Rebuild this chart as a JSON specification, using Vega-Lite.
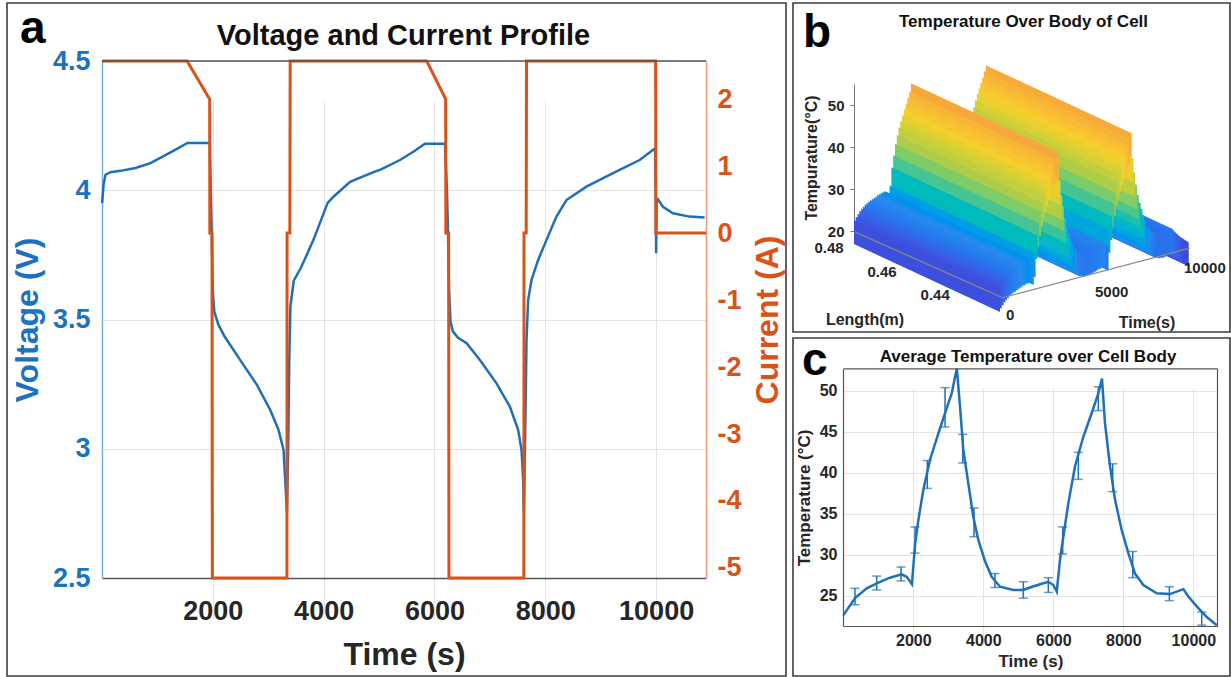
{
"$schema": "https://vega.github.io/schema/vega-lite/v6.json",
"padding": {"left": 6, "top": 2, "right": 0, "bottom": 0},
"background": "white",
"bounds": "flush",
"spacing": 7,
"config": {
  "font": "Liberation Sans",
  "view": {"stroke": "#3c3c3c", "strokeWidth": 1.6},
  "text": {"font": "Liberation Sans"}
},
"datasets": {
  "volt": [
    {"t": 0, "v": 3.95}, {"t": 10, "v": 3.97}, {"t": 27, "v": 4.02}, {"t": 63, "v": 4.06}, {"t": 153, "v": 4.07}, {"t": 333, "v": 4.075}, {"t": 604, "v": 4.086}, {"t": 874, "v": 4.105}, {"t": 1144, "v": 4.136}, {"t": 1378, "v": 4.163}, {"t": 1541, "v": 4.183}, {"t": 1700, "v": 4.183}, {"t": 1919, "v": 4.183}, {"t": 1946, "v": 4.18}, {"t": 1964, "v": 4.0}, {"t": 1982, "v": 3.81}, {"t": 2000, "v": 3.61}, {"t": 2027, "v": 3.53}, {"t": 2100, "v": 3.48}, {"t": 2210, "v": 3.435}, {"t": 2495, "v": 3.343}, {"t": 2796, "v": 3.247}, {"t": 3036, "v": 3.15}, {"t": 3186, "v": 3.073}, {"t": 3276, "v": 2.995}, {"t": 3306, "v": 2.88}, {"t": 3337, "v": 2.756}, {"t": 3360, "v": 3.0}, {"t": 3380, "v": 3.35}, {"t": 3400, "v": 3.55}, {"t": 3460, "v": 3.65}, {"t": 3590, "v": 3.7}, {"t": 3820, "v": 3.81}, {"t": 4070, "v": 3.95}, {"t": 4177, "v": 3.975}, {"t": 4477, "v": 4.033}, {"t": 4898, "v": 4.07}, {"t": 5027, "v": 4.08}, {"t": 5378, "v": 4.117}, {"t": 5618, "v": 4.149}, {"t": 5829, "v": 4.18}, {"t": 6189, "v": 4.18}, {"t": 6225, "v": 4.0}, {"t": 6243, "v": 3.845}, {"t": 6262, "v": 3.62}, {"t": 6290, "v": 3.49}, {"t": 6330, "v": 3.455}, {"t": 6420, "v": 3.43}, {"t": 6580, "v": 3.408}, {"t": 6820, "v": 3.343}, {"t": 7120, "v": 3.253}, {"t": 7360, "v": 3.163}, {"t": 7510, "v": 3.073}, {"t": 7571, "v": 2.995}, {"t": 7600, "v": 2.879}, {"t": 7613, "v": 2.756}, {"t": 7640, "v": 3.1}, {"t": 7661, "v": 3.42}, {"t": 7690, "v": 3.575}, {"t": 7751, "v": 3.653}, {"t": 7870, "v": 3.73}, {"t": 8022, "v": 3.808}, {"t": 8201, "v": 3.898}, {"t": 8381, "v": 3.962}, {"t": 8742, "v": 4.014}, {"t": 9222, "v": 4.066}, {"t": 9703, "v": 4.117}, {"t": 9942, "v": 4.156}, {"t": 9980, "v": 4.162}, {"t": 9995, "v": 3.97}, {"t": 10000, "v": 3.756}, {"t": 10010, "v": 3.96}, {"t": 10032, "v": 3.965}, {"t": 10123, "v": 3.936}, {"t": 10303, "v": 3.911}, {"t": 10604, "v": 3.898}, {"t": 10874, "v": 3.895}
  ],
  "curr": [
    {"t": 0, "c": 2.57}, {"t": 1535, "c": 2.57}, {"t": 1943, "c": 2.0}, {"t": 1946, "c": 0.0}, {"t": 1985, "c": 0.0}, {"t": 1991, "c": -5.15}, {"t": 3337, "c": -5.15}, {"t": 3340, "c": 0.0}, {"t": 3390, "c": 0.0}, {"t": 3396, "c": 2.57}, {"t": 5860, "c": 2.57}, {"t": 6202, "c": 2.0}, {"t": 6206, "c": 0.0}, {"t": 6255, "c": 0.0}, {"t": 6261, "c": -5.15}, {"t": 7613, "c": -5.15}, {"t": 7616, "c": 0.0}, {"t": 7655, "c": 0.0}, {"t": 7661, "c": 2.57}, {"t": 9991, "c": 2.57}, {"t": 9995, "c": 0.0}, {"t": 10900, "c": 0.0}
  ],
  "temp": [
    {"t": 0, "T": 22.6}, {"t": 334, "T": 24.7}, {"t": 669, "T": 25.9}, {"t": 954, "T": 26.5}, {"t": 1334, "T": 27.2}, {"t": 1668, "T": 27.6}, {"t": 1811, "T": 27.3}, {"t": 1960, "T": 26.4}, {"t": 2050, "T": 31.3}, {"t": 2143, "T": 34.2}, {"t": 2286, "T": 37.9}, {"t": 2477, "T": 41.6}, {"t": 2714, "T": 44.8}, {"t": 2906, "T": 47.3}, {"t": 3097, "T": 49.7}, {"t": 3191, "T": 51.7}, {"t": 3245, "T": 52.7}, {"t": 3334, "T": 48.1}, {"t": 3429, "T": 42.8}, {"t": 3572, "T": 38.7}, {"t": 3715, "T": 34.6}, {"t": 3857, "T": 31.8}, {"t": 4049, "T": 29.2}, {"t": 4240, "T": 27.3}, {"t": 4477, "T": 26.1}, {"t": 4857, "T": 25.7}, {"t": 5143, "T": 25.7}, {"t": 5334, "T": 26.0}, {"t": 5620, "T": 26.4}, {"t": 5857, "T": 26.7}, {"t": 6000, "T": 26.3}, {"t": 6097, "T": 25.5}, {"t": 6191, "T": 29.4}, {"t": 6286, "T": 32.2}, {"t": 6429, "T": 36.3}, {"t": 6620, "T": 40.8}, {"t": 6857, "T": 44.4}, {"t": 7097, "T": 47.3}, {"t": 7286, "T": 49.7}, {"t": 7390, "T": 51.5}, {"t": 7477, "T": 46.0}, {"t": 7620, "T": 40.8}, {"t": 7763, "T": 36.7}, {"t": 7954, "T": 33.0}, {"t": 8143, "T": 30.2}, {"t": 8334, "T": 27.7}, {"t": 8572, "T": 26.3}, {"t": 8954, "T": 25.3}, {"t": 9334, "T": 25.2}, {"t": 9715, "T": 25.8}, {"t": 9857, "T": 24.9}, {"t": 10097, "T": 23.7}, {"t": 10383, "T": 22.4}, {"t": 10669, "T": 21.4}
  ],
  "err": [
    {"t": 334, "lo": 23.9, "hi": 25.9}, {"t": 954, "lo": 25.7, "hi": 27.4}, {"t": 1649, "lo": 26.8, "hi": 28.5}, {"t": 2049, "lo": 30.2, "hi": 33.4}, {"t": 2400, "lo": 38.1, "hi": 41.5}, {"t": 2906, "lo": 45.6, "hi": 50.4}, {"t": 3411, "lo": 41.2, "hi": 44.7}, {"t": 3734, "lo": 32.2, "hi": 35.7}, {"t": 4334, "lo": 26.0, "hi": 27.7}, {"t": 5143, "lo": 24.7, "hi": 26.7}, {"t": 5857, "lo": 25.4, "hi": 27.2}, {"t": 6267, "lo": 30.1, "hi": 33.4}, {"t": 6714, "lo": 39.2, "hi": 42.5}, {"t": 7286, "lo": 47.6, "hi": 50.5}, {"t": 7697, "lo": 37.7, "hi": 41.1}, {"t": 8268, "lo": 27.2, "hi": 30.4}, {"t": 9315, "lo": 24.4, "hi": 26.1}, {"t": 10240, "lo": 21.4, "hi": 23.0}
  ],
  "surf": [
    {"t": 0, "T": 22.6}, {"t": 100, "T": 23.3}, {"t": 200, "T": 23.9}, {"t": 300, "T": 24.5}, {"t": 400, "T": 24.9}, {"t": 500, "T": 25.3}, {"t": 600, "T": 25.7}, {"t": 700, "T": 25.95}, {"t": 800, "T": 26.2}, {"t": 900, "T": 26.4},
    {"t": 1000, "T": 26.55}, {"t": 1100, "T": 26.75}, {"t": 1200, "T": 26.95}, {"t": 1300, "T": 27.15}, {"t": 1400, "T": 27.3}, {"t": 1500, "T": 27.45}, {"t": 1600, "T": 27.55}, {"t": 1700, "T": 27.6}, {"t": 1800, "T": 27.35}, {"t": 1900, "T": 26.9},
    {"t": 2000, "T": 28.6}, {"t": 2100, "T": 32.8}, {"t": 2200, "T": 35.6}, {"t": 2300, "T": 38.2}, {"t": 2400, "T": 40.2}, {"t": 2500, "T": 41.9}, {"t": 2600, "T": 43.3}, {"t": 2700, "T": 44.6}, {"t": 2800, "T": 45.9}, {"t": 2900, "T": 47.2},
    {"t": 3000, "T": 48.5}, {"t": 3100, "T": 49.7}, {"t": 3200, "T": 51.6}, {"t": 3300, "T": 49.9}, {"t": 3400, "T": 44.4}, {"t": 3500, "T": 40.6}, {"t": 3600, "T": 37.9}, {"t": 3700, "T": 35.0}, {"t": 3800, "T": 32.8}, {"t": 3900, "T": 31.2},
    {"t": 4000, "T": 29.8}, {"t": 4100, "T": 28.7}, {"t": 4200, "T": 27.7}, {"t": 4300, "T": 27.0}, {"t": 4400, "T": 26.4}, {"t": 4500, "T": 26.05}, {"t": 4600, "T": 25.9}, {"t": 4700, "T": 25.8}, {"t": 4800, "T": 25.7}, {"t": 4900, "T": 25.7},
    {"t": 5000, "T": 25.7}, {"t": 5100, "T": 25.7}, {"t": 5200, "T": 25.8}, {"t": 5300, "T": 25.95}, {"t": 5400, "T": 26.1}, {"t": 5500, "T": 26.25}, {"t": 5600, "T": 26.4}, {"t": 5700, "T": 26.5}, {"t": 5800, "T": 26.65}, {"t": 5900, "T": 26.6},
    {"t": 6000, "T": 26.3}, {"t": 6100, "T": 25.6}, {"t": 6200, "T": 29.7}, {"t": 6300, "T": 32.6}, {"t": 6400, "T": 35.5}, {"t": 6500, "T": 38.0}, {"t": 6600, "T": 40.4}, {"t": 6700, "T": 42.0}, {"t": 6800, "T": 43.6}, {"t": 6900, "T": 45.0},
    {"t": 7000, "T": 46.2}, {"t": 7100, "T": 47.35}, {"t": 7200, "T": 48.6}, {"t": 7300, "T": 49.9}, {"t": 7400, "T": 51.2}, {"t": 7500, "T": 45.1}, {"t": 7600, "T": 41.5}, {"t": 7700, "T": 38.5}, {"t": 7800, "T": 36.0}, {"t": 7900, "T": 34.0},
    {"t": 8000, "T": 32.4}, {"t": 8100, "T": 30.8}, {"t": 8200, "T": 29.4}, {"t": 8300, "T": 28.1}, {"t": 8400, "T": 27.3}, {"t": 8500, "T": 26.7}, {"t": 8600, "T": 26.2}, {"t": 8700, "T": 25.9}, {"t": 8800, "T": 25.6}, {"t": 8900, "T": 25.4},
    {"t": 9000, "T": 25.3}, {"t": 9100, "T": 25.25}, {"t": 9200, "T": 25.2}, {"t": 9300, "T": 25.2}, {"t": 9400, "T": 25.3}, {"t": 9500, "T": 25.45}, {"t": 9600, "T": 25.6}, {"t": 9700, "T": 25.8}, {"t": 9800, "T": 25.3}, {"t": 9900, "T": 24.7},
    {"t": 10000, "T": 24.2}, {"t": 10100, "T": 23.7}, {"t": 10200, "T": 23.2}, {"t": 10300, "T": 22.8}, {"t": 10400, "T": 22.4}, {"t": 10500, "T": 22.0}, {"t": 10600, "T": 21.65}
  ]
},
"hconcat": [
{
  "width": 779, "height": 673,
  "resolve": {"scale": {"y": "independent"}},
  "layer": [
    {
      "data": {"name": "volt"},
      "mark": {"type": "line", "color": "#1f6fb8", "strokeWidth": 2.5},
      "encoding": {
        "x": {"field": "t", "type": "quantitative", "scale": {"domain": [0, 10900], "range": [95, 699], "nice": false, "zero": false},
          "axis": {"orient": "bottom", "offset": -98, "values": [2000, 4000, 6000, 8000, 10000], "format": "d", "title": "Time (s)", "titleFontSize": 32, "titleFontWeight": "bold", "titleColor": "#262626", "titlePadding": 15, "labelFontSize": 27, "labelFontWeight": "bold", "labelColor": "#262626", "labelPadding": 20, "labelFlush": false, "labelOverlap": false, "ticks": false, "domainColor": "#555555", "domainWidth": 1.5, "grid": true, "gridColor": "#e4e4e4", "gridWidth": 1}},
        "y": {"field": "v", "type": "quantitative", "scale": {"domain": [2.5, 4.5], "range": [575, 58], "nice": false, "zero": false},
          "axis": {"orient": "left", "offset": -95, "values": [2.5, 3, 3.5, 4, 4.5], "format": "~g", "title": "Voltage (V)", "titleFontSize": 32, "titleFontWeight": "bold", "titleColor": "#1b72be", "titlePadding": 8, "labelFontSize": 27, "labelFontWeight": "bold", "labelColor": "#1b72be", "labelPadding": 12, "labelOverlap": false, "labelFlush": false, "ticks": false, "domainColor": "#79b0de", "domainWidth": 1.5, "grid": true, "gridColor": "#e4e4e4", "gridWidth": 1}}
      }
    },
    {
      "data": {"name": "curr"},
      "mark": {"type": "line", "color": "#d95319", "strokeWidth": 3},
      "encoding": {
        "x": {"field": "t", "type": "quantitative", "scale": {"domain": [0, 10900], "range": [95, 699], "nice": false, "zero": false}},
        "y": {"field": "c", "type": "quantitative", "scale": {"domain": [-5.15, 2.57], "range": [575, 58], "nice": false, "zero": false},
          "axis": {"orient": "right", "offset": -80, "values": [-5, -4, -3, -2, -1, 0, 1, 2], "labelExpr": "'' + datum.value", "title": "Current (A)", "titleAngle": 270, "titleBaseline": "top", "titleFontSize": 32, "titleFontWeight": "bold", "titleColor": "#d95319", "titlePadding": 11, "labelFontSize": 27, "labelFontWeight": "bold", "labelColor": "#d95319", "labelPadding": 11, "labelOverlap": false, "labelFlush": false, "ticks": false, "domainColor": "#f09a78", "domainWidth": 1.5, "grid": false}}
      }
    },
    {
      "data": {"values": [{}]},
      "mark": {"type": "rule", "color": "#555555", "strokeWidth": 1.5},
      "encoding": {
        "x": {"datum": 0, "scale": {"domain": [0, 10900], "range": [95, 699], "nice": false, "zero": false}},
        "x2": {"datum": 10900},
        "y": {"datum": 4.5, "scale": {"domain": [2.5, 4.5], "range": [575, 58], "nice": false, "zero": false}, "axis": null}
      }
    },
    {
      "data": {"values": [{}]},
      "mark": {"type": "text", "text": "Voltage and Current Profile", "fontSize": 29, "fontWeight": "bold", "align": "center", "baseline": "alphabetic", "color": "#111111"},
      "encoding": {
        "x": {"datum": 5441, "scale": {"domain": [0, 10900], "range": [95, 699], "nice": false, "zero": false}},
        "y": {"datum": 4.5619, "scale": {"domain": [2.5, 4.5], "range": [575, 58], "nice": false, "zero": false}, "axis": null}
      }
    },
    {
      "data": {"values": [{}]},
      "mark": {"type": "text", "text": "a", "fontSize": 46, "fontWeight": "bold", "align": "left", "baseline": "alphabetic", "color": "#000000"},
      "encoding": {
        "x": {"datum": -1480, "scale": {"domain": [0, 10900], "range": [95, 699], "nice": false, "zero": false}},
        "y": {"datum": 4.5696, "scale": {"domain": [2.5, 4.5], "range": [575, 58], "nice": false, "zero": false}, "axis": null}
      }
    }
  ]
},
{
  "vconcat": [
  {
    "width": 437, "height": 329,
    "resolve": {"scale": {"x": "independent", "y": "independent", "color": "independent"}},
    "layer": [
      {
        "data": {"name": "surf"},
        "mark": {"type": "point", "shape": "M-1,-0.4658L1,0.4658L1,0.7946L-1,-0.137Z", "filled": true, "size": 21316, "opacity": 1, "strokeWidth": 0},
        "encoding": {
          "x": {"field": "t", "type": "quantitative", "scale": {"domain": [0, 10000], "range": [134, 312], "nice": false, "zero": false}, "axis": null},
          "y": {"field": "t", "type": "ordinal", "scale": {"type": "point", "padding": 0, "range": [262, 212.2]}, "axis": null},
          "yOffset": {"field": "T", "type": "quantitative", "scale": {"domain": [20, 55], "range": [0, -147], "nice": false, "zero": false}},
          "color": {"field": "T", "type": "quantitative", "scale": {"domain": [21, 24, 27, 31, 35, 40, 46, 52], "range": ["#3d3fcf", "#3c5ce8", "#2a8aee", "#17b2d0", "#3cc29a", "#a9cd4a", "#f5cf2e", "#f6a53c"]}, "legend": null},
          "order": {"field": "t", "sort": "descending"}
        }
      },
      {"data": {"values": [{"L": 0.48}, {"L": 0.425}]}, "mark": {"type": "line", "color": "#8a8a8a", "strokeWidth": 1.2}, "encoding": {"x": {"field": "L", "type": "quantitative", "scale": {"domain": [0.48, 0.425], "range": [62, 208], "nice": false, "zero": false}, "axis": null}, "y": {"field": "L", "type": "quantitative", "scale": {"domain": [0.48, 0.425], "range": [229, 294], "nice": false, "zero": false}, "axis": null}}},
      {"data": {"values": [{"L": 0.48}, {"L": 0.46}, {"L": 0.44}]}, "mark": {"type": "text", "fontSize": 15, "fontWeight": "bold", "color": "#262626", "align": "center", "baseline": "middle", "dx": -26, "dy": 16}, "encoding": {"text": {"field": "L", "type": "quantitative", "format": ".2f"}, "x": {"field": "L", "type": "quantitative", "scale": {"domain": [0.48, 0.425], "range": [62, 208], "nice": false, "zero": false}, "axis": null}, "y": {"field": "L", "type": "quantitative", "scale": {"domain": [0.48, 0.425], "range": [229, 294], "nice": false, "zero": false}, "axis": null}}},
      {"data": {"values": [{"t": 0}, {"t": 10600}]}, "mark": {"type": "line", "color": "#8a8a8a", "strokeWidth": 1.2}, "encoding": {"x": {"field": "t", "type": "quantitative", "scale": {"domain": [0, 10600], "range": [208, 396.7], "nice": false, "zero": false}, "axis": null}, "y": {"field": "t", "type": "quantitative", "scale": {"domain": [0, 10600], "range": [295, 245.2], "nice": false, "zero": false}, "axis": null}}},
      {"data": {"values": [{"t": 0}, {"t": 5000}, {"t": 10000}]}, "mark": {"type": "text", "fontSize": 15, "fontWeight": "bold", "color": "#262626", "align": "left", "baseline": "middle", "dx": 5, "dy": 17}, "encoding": {"text": {"field": "t", "type": "quantitative", "format": "d"}, "x": {"field": "t", "type": "quantitative", "scale": {"domain": [0, 10600], "range": [208, 396.7], "nice": false, "zero": false}, "axis": null}, "y": {"field": "t", "type": "quantitative", "scale": {"domain": [0, 10600], "range": [295, 245.2], "nice": false, "zero": false}, "axis": null}}},
      {"data": {"values": [{}]}, "mark": {"type": "text", "text": "Temperature Over Body of Cell", "fontSize": 17, "fontWeight": "bold", "color": "#111111", "align": "center", "baseline": "alphabetic"}, "encoding": {"x": {"datum": 9522, "scale": {"domain": [0, 10000], "range": [61, 239], "nice": false, "zero": false}, "axis": null}, "y": {"datum": 68.57, "scale": {"domain": [20, 55], "range": [228, 81], "nice": false, "zero": false}, "axis": {"orient": "left", "offset": -61, "values": [20, 30, 40, 50], "title": "Tempurature(°C)", "titleFontSize": 16, "titleFontWeight": "bold", "titleColor": "#262626", "titlePadding": 8, "labelFontSize": 15, "labelFontWeight": "bold", "labelColor": "#262626", "labelPadding": 6, "labelFlush": false, "labelOverlap": false, "ticks": true, "tickSize": 4, "tickColor": "#777777", "domainColor": "#777777", "grid": false}}}},
      {"data": {"values": [{}]}, "mark": {"type": "text", "text": "b", "fontSize": 46, "fontWeight": "bold", "color": "#000000", "align": "left", "baseline": "alphabetic"}, "encoding": {"x": {"datum": -2865, "scale": {"domain": [0, 10000], "range": [61, 239], "nice": false, "zero": false}, "axis": null}, "y": {"datum": 63.81, "scale": {"domain": [20, 55], "range": [228, 81], "nice": false, "zero": false}, "axis": null}}},
      {"data": {"values": [{}]}, "mark": {"type": "text", "text": "Length(m)", "fontSize": 16, "fontWeight": "bold", "color": "#262626", "align": "center", "baseline": "middle"}, "encoding": {"x": {"datum": 618, "scale": {"domain": [0, 10000], "range": [61, 239], "nice": false, "zero": false}, "axis": null}, "y": {"datum": -1.19, "scale": {"domain": [20, 55], "range": [228, 81], "nice": false, "zero": false}, "axis": null}}},
      {"data": {"values": [{}]}, "mark": {"type": "text", "text": "Time(s)", "fontSize": 16, "fontWeight": "bold", "color": "#262626", "align": "center", "baseline": "middle"}, "encoding": {"x": {"datum": 16461, "scale": {"domain": [0, 10000], "range": [61, 239], "nice": false, "zero": false}, "axis": null}, "y": {"datum": -1.9, "scale": {"domain": [20, 55], "range": [228, 81], "nice": false, "zero": false}, "axis": null}}}
    ]
  },
  {
    "width": 437, "height": 338,
    "layer": [
      {
        "data": {"name": "temp"},
        "mark": {"type": "line", "color": "#1f70b8", "strokeWidth": 2.5},
        "encoding": {
          "x": {"field": "t", "type": "quantitative", "scale": {"domain": [0, 10690], "range": [50.3, 424.5], "nice": false, "zero": false},
            "axis": {"orient": "bottom", "offset": -50, "values": [2000, 4000, 6000, 8000, 10000], "format": "d", "title": "Time (s)", "titleFontSize": 17, "titleFontWeight": "bold", "titleColor": "#262626", "titlePadding": 5, "labelFontSize": 16, "labelFontWeight": "bold", "labelColor": "#262626", "labelPadding": 6, "labelFlush": false, "labelOverlap": false, "ticks": false, "domainColor": "#555555", "domainWidth": 1.2, "grid": true, "gridColor": "#e4e4e4", "gridWidth": 1}},
          "y": {"field": "T", "type": "quantitative", "scale": {"domain": [21.3, 52.7], "range": [288, 30.8], "nice": false, "zero": false},
            "axis": {"orient": "left", "offset": -50, "values": [25, 30, 35, 40, 45, 50], "title": "Temperature (°C)", "titleFontSize": 17, "titleFontWeight": "bold", "titleColor": "#262626", "titlePadding": 6, "labelFontSize": 16, "labelFontWeight": "bold", "labelColor": "#262626", "labelPadding": 6, "labelFlush": false, "labelOverlap": false, "ticks": false, "domainColor": "#555555", "domainWidth": 1.2, "grid": true, "gridColor": "#e4e4e4", "gridWidth": 1}}
        }
      },
      {
        "data": {"name": "err"},
        "mark": {"type": "rule", "color": "#1f70b8", "strokeWidth": 1.5},
        "encoding": {
          "x": {"field": "t", "type": "quantitative", "scale": {"domain": [0, 10690], "range": [50.3, 424.5], "nice": false, "zero": false}},
          "y": {"field": "lo", "type": "quantitative", "scale": {"domain": [21.3, 52.7], "range": [288, 30.8], "nice": false, "zero": false}},
          "y2": {"field": "hi"}
        }
      },
      {
        "data": {"name": "err"},
        "mark": {"type": "tick", "orient": "horizontal", "color": "#1f70b8", "size": 9, "thickness": 1.5},
        "encoding": {
          "x": {"field": "t", "type": "quantitative", "scale": {"domain": [0, 10690], "range": [50.3, 424.5], "nice": false, "zero": false}},
          "y": {"field": "lo", "type": "quantitative", "scale": {"domain": [21.3, 52.7], "range": [288, 30.8], "nice": false, "zero": false}}
        }
      },
      {
        "data": {"name": "err"},
        "mark": {"type": "tick", "orient": "horizontal", "color": "#1f70b8", "size": 9, "thickness": 1.5},
        "encoding": {
          "x": {"field": "t", "type": "quantitative", "scale": {"domain": [0, 10690], "range": [50.3, 424.5], "nice": false, "zero": false}},
          "y": {"field": "hi", "type": "quantitative", "scale": {"domain": [21.3, 52.7], "range": [288, 30.8], "nice": false, "zero": false}}
        }
      },
      {
        "data": {"values": [{}]},
        "mark": {"type": "rule", "color": "#555555", "strokeWidth": 1.2},
        "encoding": {
          "x": {"datum": 0, "scale": {"domain": [0, 10690], "range": [50.3, 424.5], "nice": false, "zero": false}},
          "x2": {"datum": 10690},
          "y": {"datum": 52.7, "scale": {"domain": [21.3, 52.7], "range": [288, 30.8], "nice": false, "zero": false}}
        }
      },
      {
        "data": {"values": [{}]},
        "mark": {"type": "rule", "color": "#555555", "strokeWidth": 1.2},
        "encoding": {
          "x": {"datum": 10690, "scale": {"domain": [0, 10690], "range": [50.3, 424.5], "nice": false, "zero": false}},
          "y": {"datum": 21.3, "scale": {"domain": [21.3, 52.7], "range": [288, 30.8], "nice": false, "zero": false}},
          "y2": {"datum": 52.7}
        }
      },
      {
        "data": {"values": [{}]},
        "mark": {"type": "text", "text": "Average Temperature over Cell Body", "fontSize": 17, "fontWeight": "bold", "color": "#111111", "align": "center", "baseline": "alphabetic"},
        "encoding": {
          "x": {"datum": 5277, "scale": {"domain": [0, 10690], "range": [50.3, 424.5], "nice": false, "zero": false}},
          "y": {"datum": 53.53, "scale": {"domain": [21.3, 52.7], "range": [288, 30.8], "nice": false, "zero": false}}
        }
      },
      {
        "data": {"values": [{}]},
        "mark": {"type": "text", "text": "c", "fontSize": 46, "fontWeight": "bold", "color": "#000000", "align": "left", "baseline": "alphabetic"},
        "encoding": {
          "x": {"datum": -1180, "scale": {"domain": [0, 10690], "range": [50.3, 424.5], "nice": false, "zero": false}},
          "y": {"datum": 51.94, "scale": {"domain": [21.3, 52.7], "range": [288, 30.8], "nice": false, "zero": false}}
        }
      }
    ]
  }
  ],
  "spacing": 6,
  "bounds": "flush"
}
]
}
